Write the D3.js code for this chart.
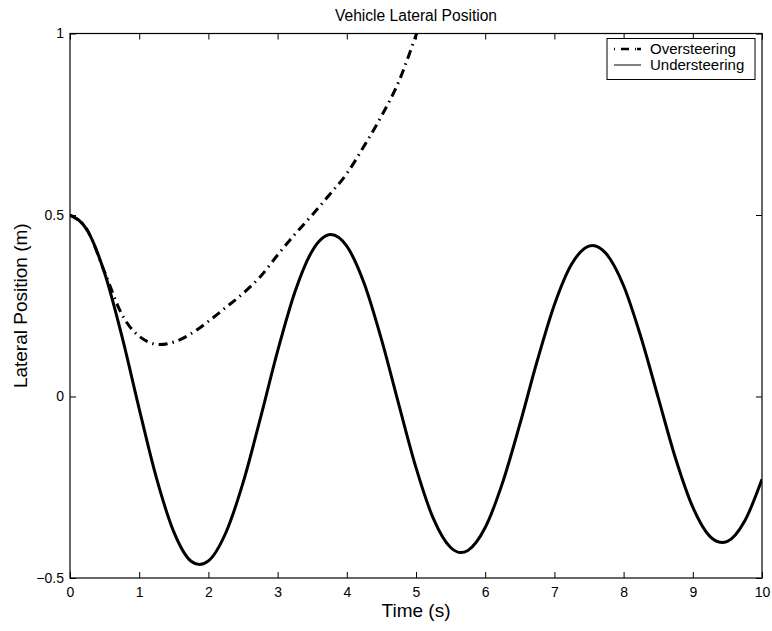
<!DOCTYPE html>
<html>
<head>
<meta charset="utf-8">
<script src="https://cdn.jsdelivr.net/npm/d3@7"></script>
<style>
  html, body { margin: 0; padding: 0; background: #fff; }
  svg { display: block; font-family: "Liberation Sans", Arial, Helvetica, sans-serif; }
</style>
</head>
<body>
<svg id="chart" width="772" height="631"></svg>
<script>
// ---- data ----
const title = "Vehicle Lateral Position";
const xLabel = "Time (s)";
const yLabel = "Lateral Position (m)";
const xTicks = [0, 1, 2, 3, 4, 5, 6, 7, 8, 9, 10];
const yTicks = [-0.5, 0, 0.5, 1];
const yTickLabels = ["\u22120.5", "0", "0.5", "1"];
const seriesNames = ["Oversteering", "Understeering"];

const underT = [0, 0.25, 0.5, 0.75, 1.0, 1.25, 1.5, 1.75, 1.87, 2.0, 2.25, 2.5, 2.75, 3.0, 3.25, 3.5, 3.77,
  4.0, 4.25, 4.5, 4.75, 5.0, 5.25, 5.5, 5.65, 5.75, 6.0, 6.25, 6.5, 6.75, 7.0, 7.25, 7.55,
  7.75, 8.0, 8.25, 8.5, 8.75, 9.0, 9.25, 9.42, 9.5, 9.75, 10.0];
const underY = [0.5, 0.458, 0.340, 0.166, -0.034, -0.225, -0.373, -0.454, -0.463, -0.453, -0.376, -0.238, -0.061, 0.125, 0.288, 0.401, 0.446,
  0.414, 0.312, 0.158, -0.021, -0.196, -0.336, -0.416, -0.430, -0.424, -0.361, -0.238, -0.077, 0.097, 0.253, 0.365, 0.416,
  0.393, 0.305, 0.164, -0.003, -0.170, -0.305, -0.386, -0.402, -0.399, -0.343, -0.228];

const overT = [0, 0.25, 0.5, 0.75, 1.0, 1.3, 1.5, 1.75, 2.0, 2.25, 2.5, 2.75, 3.0, 3.25, 3.5, 3.75, 4.0, 4.25, 4.5, 4.75, 5.0, 5.25];
const overY = [0.5, 0.458, 0.343, 0.226, 0.166, 0.143, 0.150, 0.173, 0.207, 0.245, 0.284, 0.330, 0.390, 0.447, 0.500, 0.556, 0.614, 0.690, 0.772, 0.867, 0.995, 1.13];

// ---- layout ----
const svg = d3.select("#chart");
const L = 70, R = 762, T = 33.5, B = 578;
const x = d3.scaleLinear().domain([0, 10]).range([L, R]);
const y = d3.scaleLinear().domain([-0.5, 1]).range([B, T]);

svg.append("defs").append("clipPath").attr("id", "plotclip")
  .append("rect").attr("x", L).attr("y", T).attr("width", R - L).attr("height", B - T);

const tickLen = 6;
const gx = svg.append("g").attr("transform", `translate(0,${B})`)
  .call(d3.axisBottom(x).tickValues(xTicks).tickSize(-tickLen).tickPadding(9).tickFormat(d3.format("d")));
const gy = svg.append("g").attr("transform", `translate(${L},0)`)
  .call(d3.axisLeft(y).tickValues(yTicks).tickSize(-tickLen).tickPadding(6).tickFormat((d, i) => yTickLabels[i]));
const gxt = svg.append("g").attr("transform", `translate(0,${T})`)
  .call(d3.axisTop(x).tickValues(xTicks).tickSize(-tickLen).tickFormat(""));
const gyr = svg.append("g").attr("transform", `translate(${R},0)`)
  .call(d3.axisRight(y).tickValues(yTicks).tickSize(-tickLen).tickFormat(""));
[gx, gy, gxt, gyr].forEach(g => {
  g.select(".domain").remove();
  g.selectAll(".tick line").attr("stroke", "#000").attr("stroke-width", 1);
  g.selectAll(".tick text").attr("fill", "#000").style("font-size", "14px");
});
svg.append("rect").attr("x", L).attr("y", T).attr("width", R - L).attr("height", B - T)
  .attr("fill", "none").attr("stroke", "#000").attr("stroke-width", 1.2);

// lines
const plot = svg.append("g").attr("clip-path", "url(#plotclip)");
const lineGen = d3.line().x(d => x(d[0])).y(d => y(d[1])).curve(d3.curveMonotoneX);
plot.append("path").datum(underT.map((t, i) => [t, underY[i]]))
  .attr("d", lineGen).attr("fill", "none").attr("stroke", "#000").attr("stroke-width", 3)
  .attr("stroke-linejoin", "round");
plot.append("path").datum(overT.map((t, i) => [t, overY[i]]))
  .attr("d", lineGen).attr("fill", "none").attr("stroke", "#000").attr("stroke-width", 3)
  .attr("stroke-dasharray", "9,5,1.5,5");

// titles
svg.append("text").attr("x", (L + R) / 2).attr("y", 21).attr("text-anchor", "middle")
  .style("font-size", "15.6px").text(title);
svg.append("text").attr("x", (L + R) / 2).attr("y", 617).attr("text-anchor", "middle")
  .style("font-size", "19px").text(xLabel);
svg.append("text").attr("transform", `translate(27,${(T + B) / 2}) rotate(-90)`).attr("text-anchor", "middle")
  .style("font-size", "19px").text(yLabel);

// legend
const lg = svg.append("g");
lg.append("rect").attr("x", 607).attr("y", 38.5).attr("width", 148).attr("height", 41)
  .attr("fill", "#fff").attr("stroke", "#000").attr("stroke-width", 1);
lg.append("line").attr("x1", 614).attr("x2", 641).attr("y1", 49).attr("y2", 49)
  .attr("stroke", "#000").attr("stroke-width", 2.5).attr("stroke-dasharray", "1,6,8,6,1");
lg.append("line").attr("x1", 614).attr("x2", 641).attr("y1", 65).attr("y2", 65)
  .attr("stroke", "#000").attr("stroke-width", 1);
lg.selectAll("text.lab").data(seriesNames).enter().append("text")
  .attr("x", 650).attr("y", (d, i) => 54 + i * 16).style("font-size", "15px").text(d => d);
</script>
</body>
</html>
